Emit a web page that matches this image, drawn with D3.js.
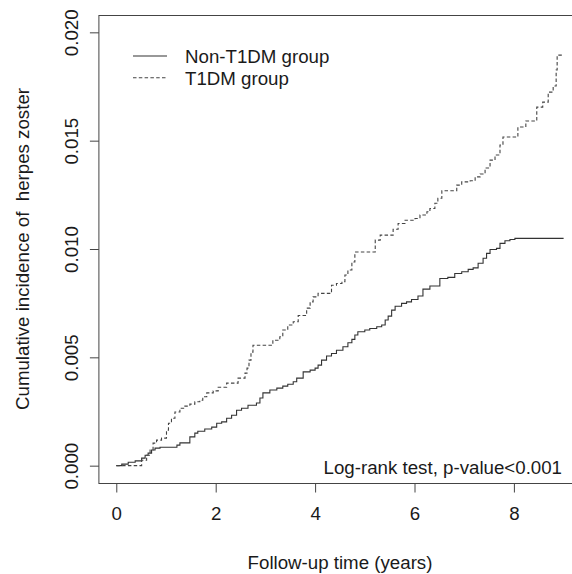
<!DOCTYPE html>
<meta charset="utf-8">
<style>
    body { margin: 0; background: #fff; }
    text {
        font-family: "Liberation Sans", Arial, sans-serif;
        font-size: 18.7px;
        fill: #1a1a1a;
    }
    .frame { fill: none; stroke: #444; stroke-width: 1; }
    .tick line { stroke: #444; }
</style>
<svg width="572" height="574"></svg>
<script src="https://d3js.org/d3.v7.min.js"></script>
<script>

// cumulative incidence step points
var nonTime = [0, 0.11, 0.24, 0.38, 0.51, 0.58, 0.64, 0.71, 0.78, 0.88, 1.22, 1.28, 1.48, 1.58, 1.64, 1.78, 1.92, 2.02, 2.12, 2.22,
               2.32, 2.42, 2.52, 2.65, 2.82, 2.89, 2.95, 3.09, 3.23, 3.35, 3.45, 3.56, 3.63, 3.76, 3.90, 4.00, 4.06, 4.13, 4.23, 4.33,
               4.43, 4.56, 4.66, 4.74, 4.80, 4.86, 5.00, 5.10, 5.24, 5.34, 5.41, 5.47, 5.54, 5.61, 5.74, 5.84, 5.94, 6.07, 6.17, 6.31,
               6.51, 6.67, 6.81, 6.95, 7.08, 7.18, 7.28, 7.38, 7.45, 7.52, 7.65, 7.72, 7.82, 7.92, 8.02, 9.00];
var nonCum = [0, 0.00007, 0.00016, 0.00022, 0.00035, 0.00048, 0.00058, 0.00072, 0.00081, 0.00085, 0.00095, 0.00105, 0.00133, 0.00150, 0.00159, 0.00169, 0.00178, 0.00196, 0.00202, 0.00219,
              0.00233, 0.00256, 0.00265, 0.00279, 0.00289, 0.00312, 0.00336, 0.00349, 0.00358, 0.00367, 0.00376, 0.00387, 0.00404, 0.00433, 0.00441, 0.00450, 0.00464, 0.00487, 0.00506, 0.00518,
              0.00533, 0.00549, 0.00567, 0.00583, 0.00603, 0.00618, 0.00626, 0.00633, 0.00641, 0.00649, 0.00672, 0.00690, 0.00718, 0.00736, 0.00749, 0.00756, 0.00767, 0.00783, 0.00815, 0.00829,
              0.00864, 0.00869, 0.00887, 0.00895, 0.00906, 0.00913, 0.00934, 0.00957, 0.00980, 0.00998, 0.01003, 0.01026, 0.01038, 0.01044, 0.01049, 0.01049];

var t1dmTime = [0, 0.51, 0.61, 0.68, 0.74, 0.81, 0.91, 1.01, 1.05, 1.11, 1.18, 1.28, 1.38, 1.48, 1.58, 1.68, 1.74, 1.82, 1.95, 2.05,
                2.22, 2.45, 2.59, 2.63, 2.67, 2.71, 2.75, 3.15, 3.29, 3.35, 3.45, 3.56, 3.66, 3.83, 3.90, 3.96, 4.06, 4.33, 4.43, 4.54,
                4.60, 4.66, 4.74, 4.80, 5.21, 5.31, 5.57, 5.67, 5.81, 6.01, 6.11, 6.25, 6.31, 6.41, 6.47, 6.55, 6.85, 6.95, 7.12, 7.22,
                7.32, 7.42, 7.52, 7.62, 7.72, 7.78, 8.08, 8.24, 8.46, 8.58, 8.69, 8.79, 8.85, 8.87, 9.00];
var t1dmCum = [0, 0.00025, 0.00048, 0.00072, 0.00104, 0.00118, 0.00127, 0.00164, 0.00196, 0.00219, 0.00248, 0.00265, 0.00275, 0.00284, 0.00295, 0.00302, 0.00318, 0.00336, 0.00345, 0.00362,
               0.00381, 0.00404, 0.00427, 0.00450, 0.00487, 0.00524, 0.00556, 0.00579, 0.00595, 0.00626, 0.00649, 0.00664, 0.00693, 0.00727, 0.00756, 0.00779, 0.00795, 0.00833, 0.00841, 0.00849,
               0.00880, 0.00903, 0.00940, 0.00986, 0.01041, 0.01064, 0.01091, 0.01118, 0.01133, 0.01141, 0.01157, 0.01172, 0.01187, 0.01211, 0.01234, 0.01269, 0.01295, 0.01310, 0.01315, 0.01333,
               0.01346, 0.01374, 0.01410, 0.01434, 0.01480, 0.01517, 0.01563, 0.01591, 0.01655, 0.01678, 0.01724, 0.01752, 0.01826, 0.01895, 0.01895];

var xTicks = [0, 2, 4, 6, 8];
var yTicks = [0, 0.005, 0.010, 0.015, 0.020];
var legendLabels = ["Non-T1DM group", "T1DM group"];

var svg = d3.select("svg");

// plot region like R's default 4% axis extension
var x = d3.scaleLinear().domain([-0.36, 9.36]).range([98.4, 581.5]),
    y = d3.scaleLinear().domain([-0.0008, 0.0208]).range([483, 15]);

svg.append("rect")
    .attr("class", "frame")
    .attr("x", x(-0.36) + 0.5)
    .attr("y", y(0.0208) + 0.5)
    .attr("width", x(9.36) - x(-0.36))
    .attr("height", y(-0.0008) - y(0.0208));

// x axis
var xAxis = svg.append("g")
    .attr("transform", "translate(0," + (y(-0.0008) + 0.5) + ")")
    .call(d3.axisBottom(x).tickValues(xTicks).tickFormat(d3.format("d")).tickSize(9).tickPadding(14));
xAxis.select(".domain").remove();
xAxis.selectAll("text").attr("font-size", null).attr("font-family", null).attr("fill", null);

// y axis, labels parallel to the axis
var yAxis = svg.append("g")
    .attr("transform", "translate(" + (x(-0.36) + 0.5) + ",0)")
    .call(d3.axisLeft(y).tickValues(yTicks).tickFormat(d3.format(".3f")).tickSize(9));
yAxis.select(".domain").remove();
yAxis.selectAll("text")
    .attr("font-size", null).attr("font-family", null).attr("fill", null)
    .attr("x", null).attr("dy", null)
    .attr("text-anchor", "middle")
    .attr("dominant-baseline", "central")
    .attr("transform", function(d) { return "translate(" + (71 - x(-0.36)) + ",0) rotate(-90)"; });

// axis titles
svg.append("text")
    .attr("x", 340)
    .attr("y", 569)
    .attr("text-anchor", "middle")
    .text("Follow-up time (years)");

svg.append("text")
    .attr("transform", "translate(22," + 249 + ") rotate(-90)")
    .attr("text-anchor", "middle")
    .attr("dominant-baseline", "central")
    .attr("xml:space", "preserve")
    .style("white-space", "pre")
    .text("Cumulative incidence of  herpes zoster");

// curves
var line = d3.line()
    .curve(d3.curveStepAfter)
    .x(function(d) { return x(d[0]); })
    .y(function(d) { return y(d[1]); });

var nonData = nonTime.map(function(t, i) { return [t, nonCum[i]]; });
var t1dmData = t1dmTime.map(function(t, i) { return [t, t1dmCum[i]]; });

svg.append("path")
    .datum(nonData)
    .attr("fill", "none")
    .attr("stroke", "#333")
    .attr("stroke-width", 1.1)
    .attr("d", line);

svg.append("path")
    .datum(t1dmData)
    .attr("fill", "none")
    .attr("stroke", "#444")
    .attr("stroke-width", 1.1)
    .attr("stroke-dasharray", "3.5,2.3")
    .attr("d", line);

// legend
var leg = svg.append("g");
legendLabels.forEach(function(lab, i) {
    var ly = 56 + i * 21.7;
    leg.append("line")
        .attr("x1", 133).attr("x2", 167)
        .attr("y1", ly).attr("y2", ly)
        .attr("stroke", i === 0 ? "#333" : "#444")
        .attr("stroke-width", 1.1)
        .attr("stroke-dasharray", i === 0 ? null : "3.5,2.3");
    leg.append("text")
        .attr("x", 185)
        .attr("y", ly + 7)
        .text(lab);
});

svg.append("text")
    .attr("x", 562)
    .attr("y", 474)
    .attr("text-anchor", "end")
    .text("Log-rank test, p-value<0.001");

</script>
